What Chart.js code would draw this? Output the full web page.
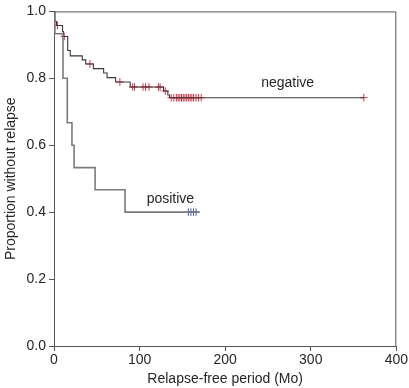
<!DOCTYPE html>
<html>
<head>
<meta charset="utf-8">
<script src="https://cdn.jsdelivr.net/npm/chart.js@4/dist/chart.umd.min.js"></script>
<style>
html,body{margin:0;padding:0;background:#fff;}
canvas{display:block;}
</style>
</head>
<body>
<canvas id="c" width="409" height="388"></canvas>
<script>
// Kaplan-Meier step data (time in months, proportion without relapse after event)
const negTimes = [0, 1, 3, 10, 11, 16, 19, 33, 37, 46, 58, 62, 72, 89, 128, 133, 135, 362];
const negSurv  = [1.0, 0.970, 0.958, 0.940, 0.925, 0.883, 0.867, 0.855, 0.843, 0.829, 0.816, 0.802, 0.789, 0.774, 0.762, 0.750, 0.742, 0.742];
const negCensor = [4, 12, 42, 77, 92, 94, 104, 107, 111, 122, 124, 130, 137, 140, 143, 145, 147, 149, 151, 153, 155, 157, 159, 161, 163, 166, 169, 172, 362];

const posTimes = [0, 1, 10.5, 15.5, 21, 23.5, 48, 83, 170];
const posSurv  = [1.0, 0.933, 0.800, 0.667, 0.600, 0.533, 0.467, 0.400, 0.400];
const posCensor = [157, 160, 163, 166];

const xTicks = [0, 100, 200, 300, 400];
const yTicks = [0, 0.2, 0.4, 0.6, 0.8, 1.0];

const groupLabels = [
  {text: 'negative', t: 273, s: 0.786},
  {text: 'positive', t: 136, s: 0.439}
];

function survAt(times, surv, t) {
  let v = surv[0];
  for (let i = 0; i < times.length; i++) { if (times[i] <= t) v = surv[i]; }
  return v;
}
const toPts = (ts, ss) => ts.map((t, i) => ({x: t, y: ss[i]}));
const censorPts = (cs, ts, ss) => cs.map(t => ({x: t, y: survAt(ts, ss, t)}));

const FONT = "'Liberation Sans', Arial, sans-serif";
const AXIS = '#555';
const TEXT = '#262626';
const FS = 14;

const framePlugin = {
  id: 'frame',
  afterDatasetsDraw(chart) {
    const {ctx, chartArea: a, scales} = chart;
    ctx.save();
    ctx.strokeStyle = AXIS;
    ctx.lineWidth = 1;
    ctx.beginPath();
    ctx.moveTo(a.left, a.top + 0.5);
    ctx.lineTo(a.right - 0.5, a.top + 0.5);
    ctx.lineTo(a.right - 0.5, a.bottom);
    ctx.stroke();
    ctx.fillStyle = TEXT;
    ctx.font = FS + 'px ' + FONT;
    ctx.textAlign = 'center';
    ctx.textBaseline = 'middle';
    groupLabels.forEach(l => {
      ctx.fillText(l.text, scales.x.getPixelForValue(l.t), scales.y.getPixelForValue(l.s));
    });
    ctx.restore();
  }
};

new Chart(document.getElementById('c'), {
  type: 'scatter',
  data: {
    datasets: [
      {
        data: toPts(posTimes, posSurv),
        showLine: true, stepped: 'before',
        borderColor: '#7a7a7a', borderWidth: 1.6,
        pointRadius: 0, fill: false
      },
      {
        data: toPts(negTimes, negSurv),
        showLine: true, stepped: 'before',
        borderColor: '#3a3a3a', borderWidth: 1.1,
        pointRadius: 0, fill: false
      },
      {
        data: censorPts(negCensor, negTimes, negSurv),
        showLine: false, pointStyle: 'cross', pointRadius: 3.8,
        borderColor: '#cc3347', borderWidth: 1
      },
      {
        data: censorPts(posCensor, posTimes, posSurv),
        showLine: false, pointStyle: 'cross', pointRadius: 3.8,
        borderColor: '#4a62b8', borderWidth: 1
      }
    ]
  },
  options: {
    responsive: false,
    animation: false,
    devicePixelRatio: 1,
    layout: {padding: {left: 0, right: 12, top: 9, bottom: 0}},
    plugins: {legend: {display: false}, tooltip: {enabled: false}},
    scales: {
      x: {
        type: 'linear', min: 0, max: 400,
        afterFit: s => { s.height = 42; },
        afterBuildTicks: s => { s.ticks = xTicks.map(v => ({value: v})); },
        ticks: {font: {family: FONT, size: FS}, color: TEXT, padding: 1, maxRotation: 0},
        grid: {drawOnChartArea: false, drawTicks: true, tickLength: 5, color: AXIS},
        border: {display: true, color: AXIS, width: 1},
        title: {display: true, text: 'Relapse-free period (Mo)', font: {family: FONT, size: FS}, color: TEXT, padding: {top: 0, bottom: 0}}
      },
      y: {
        type: 'linear', min: 0, max: 1,
        afterFit: s => { s.width = 54; },
        afterBuildTicks: s => { s.ticks = yTicks.map(v => ({value: v})); },
        ticks: {font: {family: FONT, size: FS}, color: TEXT, padding: 3, callback: v => v.toFixed(1)},
        grid: {drawOnChartArea: false, drawTicks: true, tickLength: 5, color: AXIS},
        border: {display: true, color: AXIS, width: 1},
        title: {display: true, text: 'Proportion without relapse', font: {family: FONT, size: FS}, color: TEXT, padding: {top: 3, bottom: 0}}
      }
    }
  },
  plugins: [framePlugin]
});
</script>
</body>
</html>
